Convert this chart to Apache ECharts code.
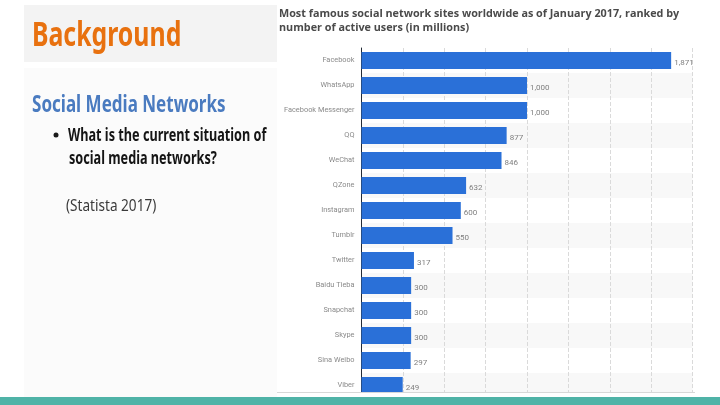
<!DOCTYPE html>
<html>
<head>
<meta charset="utf-8">
<style>
  html, body { margin: 0; padding: 0; background: #fff; }
  #chart { width: 720px; height: 405px; }
</style>
<script src="https://cdn.jsdelivr.net/npm/echarts@6/dist/echarts.min.js"></script>
</head>
<body>
<div id="chart"></div>
<script>
// Data
const sites = ['Facebook', 'WhatsApp', 'Facebook Messenger', 'QQ', 'WeChat', 'QZone', 'Instagram',
  'Tumblr', 'Twitter', 'Baidu Tieba', 'Snapchat', 'Skype', 'Sina Weibo', 'Viber'];
const users = [1871, 1000, 1000, 877, 846, 632, 600, 550, 317, 300, 300, 300, 297, 249];
const chartTitle = 'Most famous social network sites worldwide as of January 2017, ranked by\nnumber of active users (in millions)';

// no narrow font installed, so the slide text is squeezed with scaleX
const slideFont = '"Noto Sans", sans-serif';

const chart = echarts.init(document.getElementById('chart'));

chart.setOption({
  animation: false,
  backgroundColor: '#ffffff',
  title: {
    text: chartTitle,
    left: 279,
    top: 7,
    padding: 0,
    textStyle: { fontFamily: 'Open Sans', fontSize: 10.8, fontWeight: 'bold', color: '#4a4a4a', lineHeight: 14 }
  },
  grid: { left: 361.5, top: 48, width: 331, height: 350 },
  xAxis: {
    type: 'value',
    min: 0,
    max: 2000,
    interval: 250,
    axisLine: { show: false },
    axisTick: { show: false },
    axisLabel: { show: false },
    splitLine: { show: true, lineStyle: { color: '#dadada', type: 'dashed', width: 1 } }
  },
  yAxis: {
    type: 'category',
    inverse: true,
    data: sites,
    axisLine: { show: true, lineStyle: { color: '#222a35', width: 1 } },
    axisTick: { show: false },
    axisLabel: { fontFamily: 'Roboto', fontSize: 7.4, color: '#8a8a8a', margin: 7, padding: [2, 0, 0, 0] },
    splitArea: { show: true, areaStyle: { color: ['#ffffff', '#f8f8f8'] } }
  },
  series: [{
    type: 'bar',
    data: users,
    barWidth: 17,
    itemStyle: { color: '#2a70d8' },
    label: {
      show: true,
      position: 'right',
      distance: 3,
      offset: [0, 2],
      fontFamily: 'Roboto',
      fontSize: 8,
      color: '#808080',
      formatter: p => p.value.toLocaleString('en-US')
    }
  }],
  graphic: [
    { type: 'rect', z: -10, shape: { x: 24, y: 5, width: 253, height: 57 }, style: { fill: '#f3f3f3' } },
    { type: 'rect', z: -10, shape: { x: 24, y: 68, width: 253, height: 329 }, style: { fill: '#fbfbfb' } },
    { type: 'text', z: 10, x: 32, y: 19, scaleX: 0.73, style: { text: 'Background', fontFamily: slideFont, fontSize: 34, fontWeight: 'bold', fill: '#e8710f' } },
    { type: 'text', z: 10, x: 32, y: 94, scaleX: 0.74, style: { text: 'Social Media Networks', fontFamily: slideFont, fontSize: 23, fontWeight: 'bold', fill: '#4a7bc0' } },
    { type: 'circle', z: 10, shape: { cx: 56, cy: 135, r: 2.5 }, style: { fill: '#1a1a1a' } },
    { type: 'text', z: 10, x: 68, y: 128, scaleX: 0.745, style: { text: 'What is the current situation of', fontFamily: slideFont, fontSize: 17, fontWeight: 'bold', fill: '#151515' } },
    { type: 'text', z: 10, x: 69, y: 151, scaleX: 0.745, style: { text: 'social media networks?', fontFamily: slideFont, fontSize: 17, fontWeight: 'bold', fill: '#151515' } },
    { type: 'text', z: 10, x: 66, y: 198, scaleX: 0.8, style: { text: '(Statista 2017)', fontFamily: slideFont, fontSize: 17, fill: '#3a3a3a' } },
    // photo of the chart stops above the footer, then the teal strip
    { type: 'rect', z: 10, shape: { x: 277, y: 392, width: 443, height: 5 }, style: { fill: '#ffffff' } },
    { type: 'rect', z: 10, shape: { x: 277, y: 392, width: 418, height: 1 }, style: { fill: '#d8d8d8' } },
    { type: 'rect', z: 11, shape: { x: 0, y: 397, width: 720, height: 8 }, style: { fill: '#4fb3a7' } }
  ]
});
</script>
</body>
</html>
